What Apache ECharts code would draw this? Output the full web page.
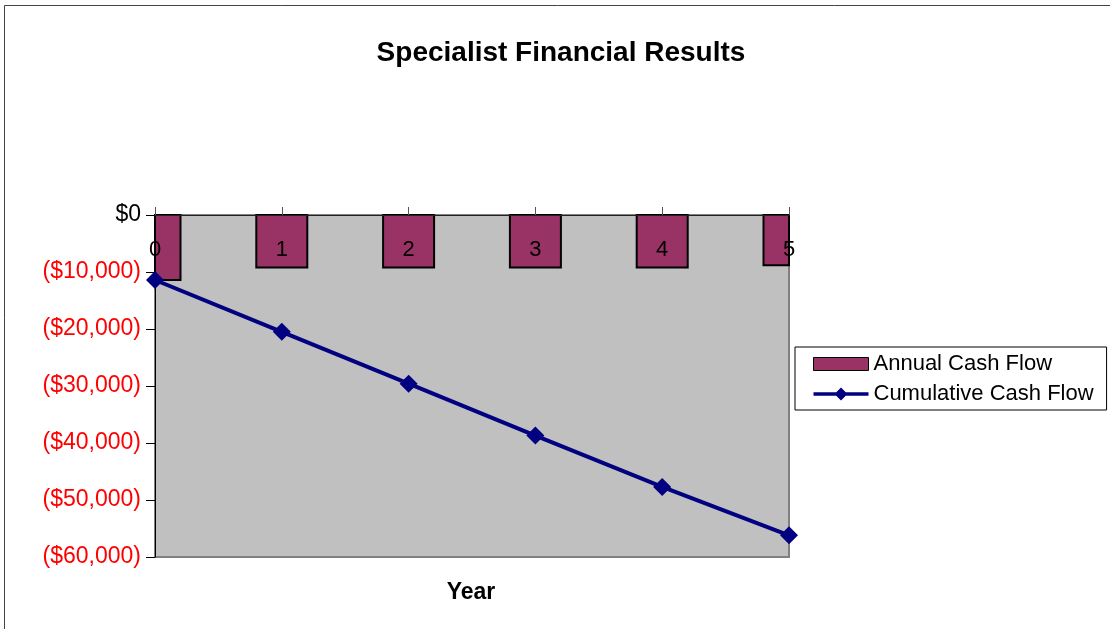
<!DOCTYPE html>
<html>
<head>
<meta charset="utf-8">
<script src="https://cdn.jsdelivr.net/npm/echarts@6/dist/echarts.min.js"></script>
<style>
html,body{margin:0;padding:0;background:#fff;}
#c{width:1110px;height:629px;}
</style>
</head>
<body>
<div id="c"></div>
<script>
var categories = ['0', '1', '2', '3', '4', '5'];
var annualCashFlow = [-11400, -9200, -9200, -9200, -9200, -8800];
var cumulativeCashFlow = [-11400, -20500, -29600, -38700, -47700, -56200];
var yTicks = { min: -60000, max: 0, interval: 10000 };

var FONT = 'Liberation Sans, Arial, sans-serif';
var BAR_COLOR = '#993366';
var LINE_COLOR = '#000080';

function fmtMoney(v) {
  if (v === 0) return '$0';
  var s = Math.abs(v).toString().replace(/\B(?=(\d{3})+(?!\d))/g, ',');
  return v < 0 ? '($' + s + ')' : '$' + s;
}

function renderBar(params, api) {
  var idx = api.value(0);
  var val = api.value(1);
  var p0 = api.coord([idx, 0]);
  var p1 = api.coord([idx, val]);
  var w = 51;
  var rect = echarts.graphic.clipRectByRect(
    { x: p0[0] - w / 2, y: Math.min(p0[1], p1[1]), width: w, height: Math.abs(p1[1] - p0[1]) },
    { x: params.coordSys.x, y: params.coordSys.y, width: params.coordSys.width, height: params.coordSys.height }
  );
  if (!rect) return;
  return {
    type: 'rect',
    shape: rect,
    style: { fill: BAR_COLOR, stroke: '#000', lineWidth: 2 }
  };
}

var chart = echarts.init(document.getElementById('c'));
chart.setOption({
  animation: false,
  backgroundColor: '#ffffff',
  textStyle: { fontFamily: FONT },
  title: [
    {
      text: 'Specialist Financial Results',
      left: 556, top: 34, textAlign: 'center',
      textStyle: { fontSize: 28, fontWeight: 'bold', color: '#000', fontFamily: FONT }
    },
    {
      text: 'Year',
      left: 466, top: 576, textAlign: 'center',
      textStyle: { fontSize: 23, fontWeight: 'bold', color: '#000', fontFamily: FONT }
    }
  ],
  graphic: [
    {
      type: 'rect',
      shape: { x: 4.5, y: 5.5, width: 1300, height: 800 },
      style: { fill: 'none', stroke: '#444', lineWidth: 1 },
      silent: true
    }
  ],
  legend: {
    orient: 'vertical',
    left: 795, top: 347,
    padding: [6, 13, 5, 18],
    borderColor: '#000', borderWidth: 1,
    itemWidth: 55, itemHeight: 13,
    itemGap: 8,
    textStyle: { fontSize: 22, color: '#000', fontFamily: FONT },
    data: [
      { name: 'Annual Cash Flow', icon: 'rect', itemStyle: { color: BAR_COLOR, borderColor: '#000', borderWidth: 1 } },
      {
        name: 'Cumulative Cash Flow',
        icon: 'path://M0,4.7L55,4.7L55,8.3L0,8.3Z M27.5,0L34,6.5L27.5,13L21,6.5Z',
        itemStyle: { color: LINE_COLOR, borderWidth: 0 }
      }
    ]
  },
  grid: {
    left: 155, right: 321, top: 215, bottom: 72,
    show: true, backgroundColor: '#C0C0C0', borderColor: '#808080', borderWidth: 2
  },
  xAxis: {
    type: 'category',
    position: 'top',
    data: categories,
    boundaryGap: false,
    z: 10,
    axisLine: { onZero: false, lineStyle: { color: '#222', width: 1 } },
    axisTick: { show: true, inside: false, length: 8, lineStyle: { color: '#555' } },
    axisLabel: { inside: true, margin: 24, fontSize: 22, color: '#000', interval: 0 },
    splitLine: { show: false }
  },
  yAxis: {
    type: 'value',
    min: yTicks.min, max: yTicks.max, interval: yTicks.interval,
    axisLine: { show: true, lineStyle: { color: '#000', width: 1 } },
    axisTick: { show: true, length: 9, lineStyle: { color: '#000' } },
    axisLabel: {
      fontSize: 23, margin: 14,
      formatter: fmtMoney,
      color: function (v) { return Number(v) < 0 ? '#ff0000' : '#000000'; }
    },
    splitLine: { show: false }
  },
  series: [
    {
      name: 'Annual Cash Flow',
      type: 'custom',
      renderItem: renderBar,
      data: annualCashFlow.map(function (v, i) { return [i, v]; }),
      encode: { x: 0, y: 1 },
      itemStyle: { color: BAR_COLOR, borderColor: '#000' },
      z: 2
    },
    {
      name: 'Cumulative Cash Flow',
      type: 'line',
      data: cumulativeCashFlow,
      symbol: 'diamond',
      symbolSize: 18,
      clip: false,
      lineStyle: { color: LINE_COLOR, width: 4 },
      itemStyle: { color: LINE_COLOR },
      z: 3
    }
  ]
});
</script>
</body>
</html>
